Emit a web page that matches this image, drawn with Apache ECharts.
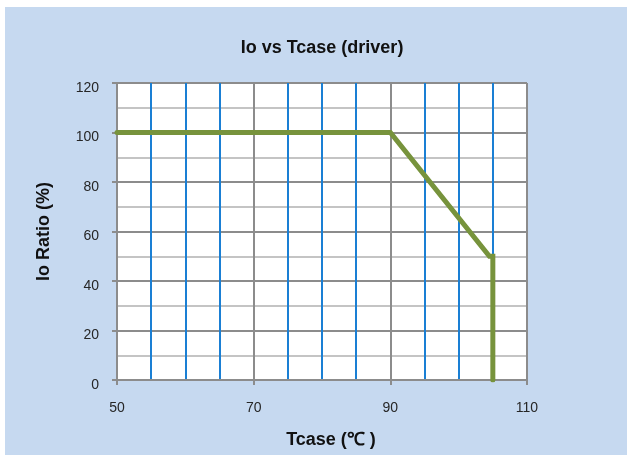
<!DOCTYPE html>
<html>
<head>
<meta charset="utf-8">
<script src="https://cdn.jsdelivr.net/npm/echarts@6/dist/echarts.min.js"></script>
<style>
html,body{margin:0;padding:0;background:#ffffff;}
#chart{width:627px;height:455px;}
</style>
</head>
<body>
<div id="chart"></div>
<script>
// Data
var tcase = [50, 90, 104.5, 105, 105];
var ioRatio = [100, 100, 50, 50, 0];
var xTicks = [50, 70, 90, 110];
var yTicks = [0, 20, 40, 60, 80, 100, 120];
var titleText = 'Io vs Tcase (driver)';
var xName = 'Tcase (\u2103 )';
var yName = 'Io Ratio (%)';

var points = tcase.map(function (x, i) { return [x, ioRatio[i]]; });

var chart = echarts.init(document.getElementById('chart'), null, {renderer: 'canvas'});
chart.setOption({
  animation: false,
  backgroundColor: '#ffffff',
  graphic: [{
    type: 'rect', z: -10, silent: true,
    shape: {x: 5, y: 7, width: 622, height: 448},
    style: {fill: '#c6d9f0'}
  }],
  title: {
    text: titleText,
    left: 317, top: 34, textAlign: 'center',
    textStyle: {fontFamily: 'Liberation Sans', fontWeight: 'bold', fontSize: 18, color: '#111'}
  },
  grid: {left: 117, right: 100, top: 83, bottom: 75, show: true, backgroundColor: '#ffffff', borderWidth: 0},
  xAxis: {
    type: 'value', min: xTicks[0], max: xTicks[xTicks.length - 1], interval: 20,
    name: xName, nameLocation: 'middle', nameGap: 51,
    nameTextStyle: {fontFamily: 'Liberation Sans', fontWeight: 'bold', fontSize: 18, color: '#111', padding: [0, 0, 0, 18]},
    axisLine: {show: true, lineStyle: {color: '#8c8c8c', width: 2}},
    axisTick: {show: true, length: 5, inside: false, lineStyle: {color: '#8c8c8c', width: 2}},
    axisLabel: {margin: 21, fontFamily: 'Liberation Sans', fontSize: 14, color: '#262626'},
    splitLine: {show: true, lineStyle: {color: '#8c8c8c', width: 2}},
    minorTick: {show: false, splitNumber: 4},
    minorSplitLine: {show: true, lineStyle: {color: '#1a7fd4', width: 2}}
  },
  yAxis: {
    type: 'value', min: yTicks[0], max: yTicks[yTicks.length - 1], interval: 20,
    name: yName, nameLocation: 'middle', nameGap: 64,
    nameTextStyle: {fontFamily: 'Liberation Sans', fontWeight: 'bold', fontSize: 18, color: '#111'},
    axisLine: {show: true, lineStyle: {color: '#8c8c8c', width: 2}},
    axisTick: {show: true, length: 5, inside: false, lineStyle: {color: '#8c8c8c', width: 2}},
    axisLabel: {margin: 18, fontFamily: 'Liberation Sans', fontSize: 14, color: '#262626', verticalAlign: 'top', lineHeight: 10},
    splitLine: {show: true, lineStyle: {color: '#8c8c8c', width: 2}},
    minorTick: {show: false, splitNumber: 2},
    minorSplitLine: {show: true, lineStyle: {color: '#c4c4c4', width: 2}}
  },
  series: [{
    type: 'line',
    data: points,
    showSymbol: false,
    symbol: 'none',
    z: 5,
    lineStyle: {color: '#77933c', width: 5, cap: 'round', join: 'miter'}
  }]
});
</script>
</body>
</html>
